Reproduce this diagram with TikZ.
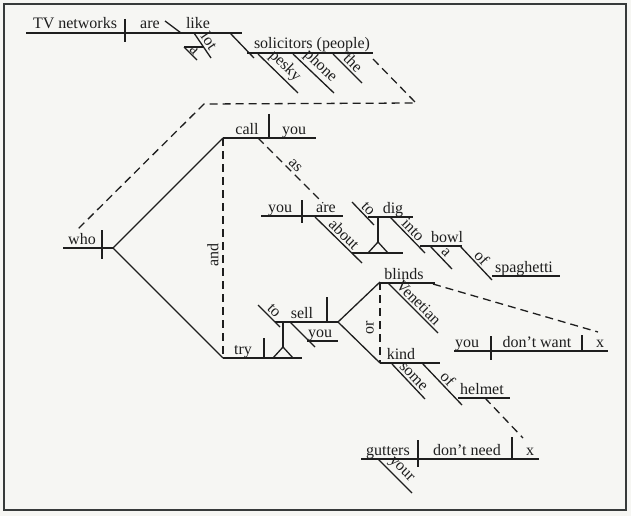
\documentclass[tikz,border=0pt]{standalone}
\usepackage{fontspec}
\setmainfont{Liberation Serif}
\definecolor{frame}{RGB}{55,58,58}
\definecolor{paper}{RGB}{246,246,243}
\definecolor{ink}{RGB}{30,30,30}
\tikzset{
  wd/.style={anchor=base, inner sep=0pt},
  sl/.style={sloped, above, inner sep=2pt},
  dsh/.style={dash pattern=on 8pt off 5pt}
}
\begin{document}
\begin{tikzpicture}[x=1pt,y=-1pt,line width=1.3pt,draw=ink,text=ink,
    font=\fontsize{16}{19}\selectfont]
    \useasboundingbox (0,0) rectangle (631,516);
    \fill[paper] (0,0) rectangle (631,516);
    % Frame
    \draw[line width=2.6pt,draw=frame] (4,4) rectangle (626,510);

    % Main clause: TV networks | are \ like
    \draw (26,33) -- (242,33);
    \draw (125,19) -- (125,42);
    \draw (165,21) -- (181,33);
    \node[wd] (tv) at (75,29) {TV networks};
    \node[wd] (are) at (150,29) {are};
    \node[wd] (like) at (198,29) {like};

    % a lot
    \draw (194,33) -- node[sl] (lot) {lot} (211,58);
    \draw (184,47) -- (203,47);
    \draw (184,47) -- node[sl,inner sep=0.5pt] (a1) {a} (197,60);

    % solicitors (people)
    \draw (230,33) -- (254,58);
    \draw (247,53) -- (373,53);
    \node[wd] (sol) at (312,49) {solicitors (people)};
    \draw (258,54) -- node[sl] (pesky) {pesky} (298,93);
    \draw (293,54) -- node[sl] (phone) {phone} (334,93);
    \draw (333,54) -- node[sl] (the) {the} (362,83);

    % Dashed link back to who
    \draw[dsh] (373,59) -- (416,103) -- (204,104) -- (78,229);

    % who
    \draw (63,248) -- (113,248);
    \draw (102,230) -- (102,259);
    \node[wd] (who) at (82,244) {who};

    % Compound predicate
    \draw (113,248) -- (223,138);
    \draw (113,248) -- (223,358);
    \draw[dsh] (223,138) -- (223,358);
    \node[rotate=90] (and) at (213,255) {and};

    % call | you
    \draw (223,138) -- (316,138);
    \draw (269,114) -- (269,138);
    \node[wd] (call) at (247,134) {call};
    \node[wd] (you1) at (294,134) {you};
    \draw[dsh] (258,138) -- node[sl] (as) {as} (323,203);

    % you | are about
    \draw (261,216) -- (343,216);
    \draw (302,200) -- (302,223);
    \node[wd] (you2) at (280,212) {you};
    \node[wd] (are2) at (326,212) {are};
    \draw (315,217) -- node[sl] (about) {about} (362,263);
    \draw (352,253) -- (403,253);
    % stilt and tripod
    \draw (378,217) -- (378,242);
    \draw (368,253) -- (378,242) -- (388,253);
    % to dig into bowl
    \draw (352,202) -- node[sl] (to1) {to} (374,225);
    \draw (368,217) -- (413,217);
    \node[wd] (dig) at (393,213) {dig};
    \draw (390,217) -- node[sl] (into) {into} (425,253);
    \draw (420,246) -- (462,246);
    \node[wd] (bowl) at (447,242) {bowl};
    \draw (430,246) -- node[sl] (a2) {a} (452,269);
    \draw (460,246) -- node[sl] (of1) {of} (492,280);
    \draw (492,276) -- (560,276);
    \node[wd] (spag) at (524,272) {spaghetti};

    % try | to sell you
    \draw (223,358) -- (302,358);
    \draw (264,338) -- (264,358);
    \node[wd] (try) at (243,354) {try};
    \draw (283,322) -- (283,347);
    \draw (273,358) -- (283,347) -- (293,358);
    \draw (258,305) -- node[sl] (to2) {to} (280,327);
    \draw (275,322) -- (338,322);
    \draw (327,297) -- (327,322);
    \node[wd] (sell) at (302,318) {sell};
    \draw (290,322) -- (315,347);
    \draw (307,341) -- (338,341);
    \node[wd] (you3) at (320,337) {you};

    % Compound object
    \draw (338,322) -- (380,282);
    \draw (338,322) -- (380,363);
    \draw[dsh] (380,282) -- (380,363);
    \node[rotate=90] (or) at (370,328) {or};
    \draw (380,283) -- (435,283);
    \node[wd] (blinds) at (404,279) {blinds};
    \draw (388,283) -- node[sl] (ven) {Venetian} (438,333);
    \draw[dsh] (433,284) -- (598,332);

    % you | don't want | x
    \draw (454,351) -- (608,351);
    \draw (491,336) -- (491,360);
    \draw (582,335) -- (582,351);
    \node[wd] (you4) at (467,347) {you};
    \node[wd] (want) at (537,347) {don't want};
    \node[wd] (x1) at (600,347) {x};

    % kind of helmet
    \draw (380,363) -- (440,363);
    \node[wd] (kind) at (401,359) {kind};
    \draw (392,364) -- node[sl] (some) {some} (425,399);
    \draw (422,363) -- node[sl] (of2) {of} (462,405);
    \draw (458,398) -- (510,398);
    \node[wd] (helmet) at (482,394) {helmet};
    \draw[dsh] (485,398) -- (523,438);

    % gutters | don't need | x
    \draw (361,459) -- (539,459);
    \draw (418,440) -- (418,467);
    \draw (512,437) -- (512,459);
    \node[wd] (gut) at (388,455) {gutters};
    \node[wd] (need) at (467,455) {don't need};
    \node[wd] (x2) at (530,455) {x};
    \draw (378,459) -- node[sl] (your) {your} (412,493);
\end{tikzpicture}
\end{document}
